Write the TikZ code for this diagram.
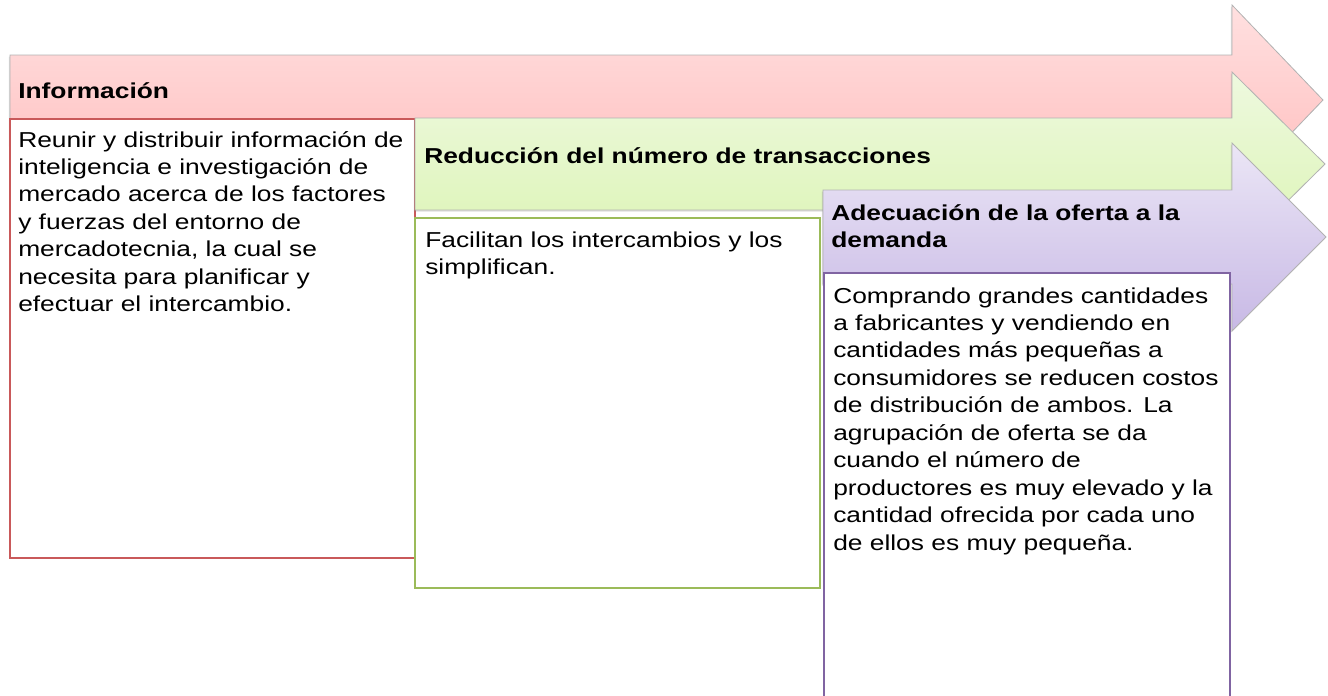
\documentclass[tikz,border=0pt]{standalone}
\usepackage{fontspec}
\setmainfont{Liberation Sans}[FakeStretch=1.22]
\usetikzlibrary{shadows}
\definecolor{infotop}{HTML}{FFE0E0}
\definecolor{infobot}{HTML}{FFBCBC}
\definecolor{infoline}{HTML}{C9595A}
\definecolor{redutop}{HTML}{EEF9DF}
\definecolor{redubot}{HTML}{DBF4B3}
\definecolor{reduline}{HTML}{9BBB59}
\definecolor{adectop}{HTML}{EBE6F6}
\definecolor{adecbot}{HTML}{C8B9E5}
\definecolor{adecline}{HTML}{8064A2}
\tikzset{
  arrowshape/.style={draw=gray!60, line width=0.6pt, drop shadow={shadow xshift=-0.8pt, shadow yshift=-1.2pt, opacity=0.25}},
  boxline/.style={fill=white, line width=1.1pt},
  headtxt/.style={anchor=base west, inner sep=0pt, font=\fontsize{16.2}{20.6}\selectfont\bfseries},
  bodytxt/.style={anchor=base west, inner sep=0pt, font=\fontsize{16.2}{20.6}\selectfont}
}
\begin{document}
\begin{tikzpicture}[x=0.75pt, y=-0.75pt]
\useasboundingbox (0,0) rectangle (1328,696);
% informacion
\draw[arrowshape, top color=infotop, bottom color=infobot] (10,55) -- (1232,55) -- (1232,5) -- (1323,100) -- (1232,195) -- (1232,145) -- (10,145) -- cycle;
\draw[boxline, draw=infoline] (10,119) rectangle (415,558);
\node[headtxt] (infohead) at (18,98) {Información};
\node[bodytxt] (infobody) at (18,147) {\parbox[t]{390pt}{\raggedright
Reunir y distribuir información de\\
inteligencia e investigación de\\
mercado acerca de los factores\\
y fuerzas del entorno de\\
mercadotecnia, la cual se\\
necesita para planificar y\\
efectuar el intercambio.}};
% reduccion
\draw[arrowshape, top color=redutop, bottom color=redubot] (415,118) -- (1232,118) -- (1232,72) -- (1325,164) -- (1232,256) -- (1232,210) -- (415,210) -- cycle;
\draw[boxline, draw=reduline] (415,218) rectangle (820,588);
\node[headtxt] (reduhead) at (424,163) {Reducción del número de transacciones};
\node[bodytxt] (redubody) at (425,247) {\parbox[t]{390pt}{\raggedright
Facilitan los intercambios y los\\
simplifican.}};
% adecuacion
\draw[arrowshape, top color=adectop, bottom color=adecbot] (823,190) -- (1232,190) -- (1232,143) -- (1326,237) -- (1232,331) -- (1232,284) -- (823,284) -- cycle;
\draw[boxline, draw=adecline] (824,273) rectangle (1230,712);
\node[headtxt] (adechead) at (831,220) {\parbox[t]{390pt}{\raggedright
Adecuación de la oferta a la\\
demanda}};
\node[bodytxt] (adecbody) at (833,303) {\parbox[t]{390pt}{\raggedright
Comprando grandes cantidades\\
a fabricantes y vendiendo en\\
cantidades más pequeñas a\\
consumidores se reducen costos\\
de distribución de ambos. La\\
agrupación de oferta se da\\
cuando el número de\\
productores es muy elevado y la\\
cantidad ofrecida por cada uno\\
de ellos es muy pequeña.}};
\end{tikzpicture}
\end{document}
